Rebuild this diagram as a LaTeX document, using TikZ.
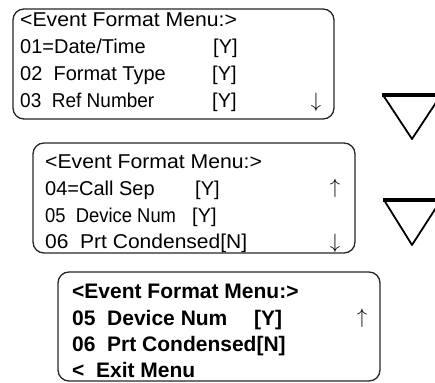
\documentclass[tikz,border=0pt]{standalone}
\usepackage{fontspec}
\usepackage{graphicx}
\setmainfont{Liberation Sans}
\begin{document}
\begin{tikzpicture}[x=1pt,y=-1pt,
  lcdbox/.style={draw=black!85,line width=1.3pt,rounded corners=11pt},
  txt/.style={anchor=base west,inner sep=0pt,font=\fontsize{20}{22}\selectfont},
  btxt/.style={txt,font=\fontsize{21}{22}\selectfont\bfseries},
  arr/.style={anchor=center,inner sep=0pt,font=\fontsize{20}{22}\selectfont},
  tri/.style={draw=black,line width=1.8pt,line join=round},
  tritop/.style={draw=black,line width=3.6pt,line cap=butt}]
\useasboundingbox (0,0) rectangle (435,382);
\begin{scope}
\clip (0,0) rectangle (435,382);
% box 1
\draw[lcdbox] (13,9) rectangle (334,119);
\node[txt] (a1) at (20,27) {\scalebox{1.06}[1]{<Event Format Menu:>}};
\node[txt] (a2) at (20,54) {01=Date/Time};
\node[txt] (a3) at (20,81) {02\ \ Format Type};
\node[txt] (a4) at (20,108) {\scalebox{0.95}[1]{03\ \ Ref Number}};
\node[txt] (a2b) at (213,54) {[Y]};
\node[txt] (a3b) at (212,81) {[Y]};
\node[txt] (a4b) at (212,108) {[Y]};
\node[arr] (a4d) at (316,102) {$\downarrow$};
% box 2
\draw[lcdbox] (33,143) rectangle (355,253);
\node[txt] (b1) at (45,168) {\scalebox{1.06}[1]{<Event Format Menu:>}};
\node[txt] (b2) at (45,195) {04=Call Sep};
\node[txt] (b3) at (45,222) {\scalebox{0.92}[1]{05\ \ Device Num}};
\node[txt] (b4) at (45,248) {\scalebox{1.05}[1]{06\ \ Prt Condensed[N]}};
\node[txt] (b2b) at (195,195) {[Y]};
\node[txt] (b3b) at (192,222) {[Y]};
\node[arr] (b2u) at (335,188) {$\uparrow$};
\node[arr] (b4d) at (335,243) {$\downarrow$};
% box 3
\draw[lcdbox] (58,272) rectangle (380,381);
\node[btxt] (c1) at (72,298) {<Event Format Menu:>};
\node[btxt] (c2) at (72,325) {05\ \ Device Num};
\node[btxt] (c3) at (72,351) {06\ \ Prt Condensed[N]};
\node[btxt] (c4) at (72,377) {<\ \ Exit Menu};
\node[btxt] (c2b) at (254,325) {[Y]};
\node[arr] (c2u) at (362,318) {$\uparrow$};
% triangles
\draw[tri] (383,95) -- (412,139) -- (441,95);
\draw[tritop] (382,95) -- (442,95);
\draw[tri] (384,200) -- (412,245) -- (441,200);
\draw[tritop] (383,200) -- (442,200);
\end{scope}
\end{tikzpicture}
\end{document}
